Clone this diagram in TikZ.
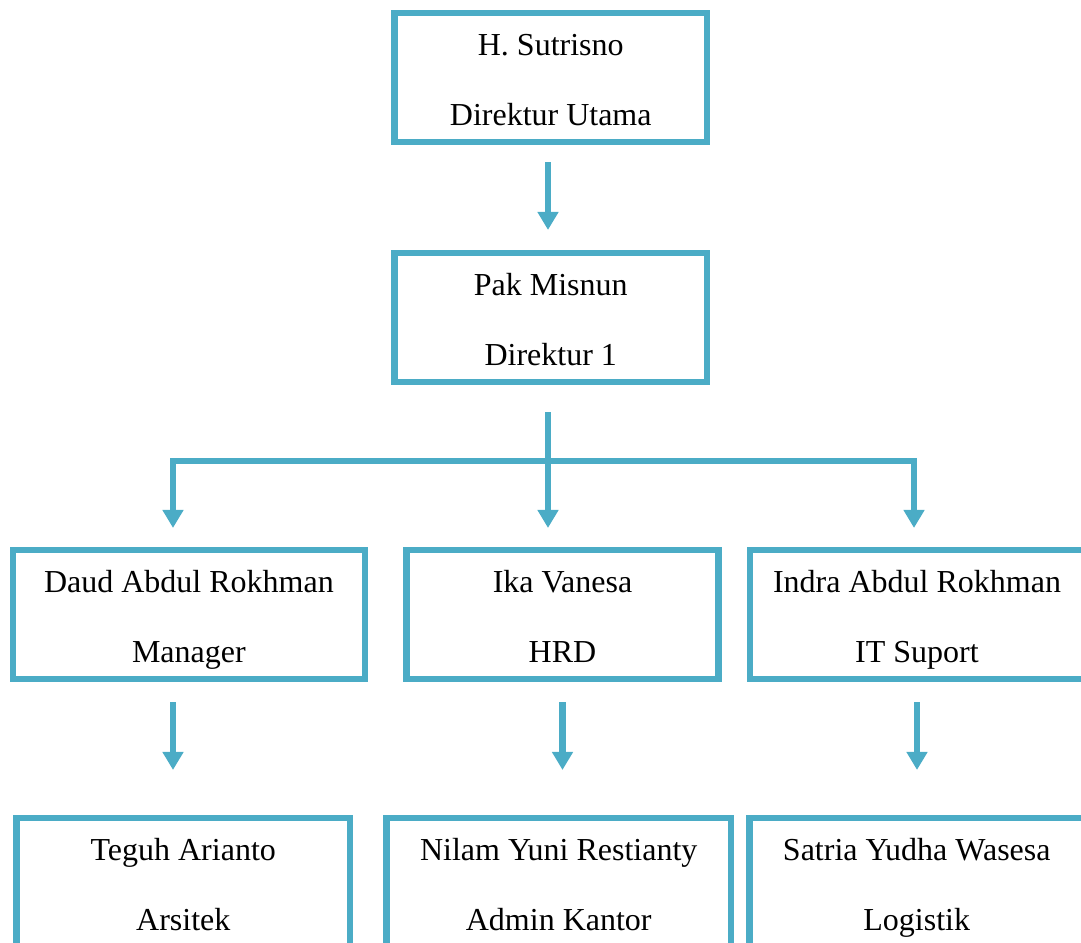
\documentclass[tikz,border=0pt]{standalone}
\usepackage{fontspec}
\setmainfont{Liberation Serif}
\usetikzlibrary{arrows.meta,positioning}

\definecolor{kotak}{HTML}{4BACC6}
\newcommand{\duo}[2]{\rule{0pt}{17.5pt}#1\\#2\rule[-5pt]{0pt}{5pt}}

\tikzset{
  box/.style={draw=kotak, line width=3.25pt, rectangle, inner sep=0pt,
    minimum height=64.5pt, align=center,
    font=\fontsize{16}{35}\selectfont},
  link/.style={draw=kotak, line width=3.25pt},
  tip/.style={-{Triangle[length=9pt,width=10pt]}}
}

\begin{document}
\begin{tikzpicture}[x=0.5pt,y=-0.5pt]
		\useasboundingbox (0,0) rectangle (1081,942);
		\clip (0,0) rectangle (1081,942);
		
		% 1. 上层：两位直接领导
		\node [box, minimum width=156.25pt] (utama) at (550.75,77.5) {\duo{H. Sutrisno}{Direktur Utama}};
		\node [box, minimum width=156.25pt, below=52.25pt of utama] (dir1) {\duo{Pak Misnun}{Direktur 1}};
		
		% 2. 中层：三个部门
		\node [box, minimum width=176.15pt] (mgr) at (188.9,614.5) {\duo{Daud Abdul Rokhman}{Manager}};
		\node [box, minimum width=156pt] (hrd) at (562.5,614.5) {\duo{Ika Vanesa}{HRD}};
		\node [box, minimum width=167pt] (it) at (917,614.5) {\duo{Indra Abdul Rokhman}{IT Suport}};
		
		% 3. 下层：各部门下属（被图片底边截断）
		\node [box, minimum width=166.75pt] (arsitek) at (183.25,882.5) {\duo{Teguh Arianto}{Arsitek}};
		\node [box, minimum width=172.25pt] (admin) at (558.75,882.5) {\duo{Nilam Yuni Restianty}{Admin Kantor}};
		\node [box, minimum width=167.25pt] (logistik) at (916.75,882.5) {\duo{Satria Yudha Wasesa}{Logistik}};
		
		% 分叉点
		\coordinate (fork) at (548,461);
		\coordinate (forkL) at (173,461);
		\coordinate (forkR) at (914,461);
		
		% 4. 连接箭头
		\draw [link, tip, shorten <=8.4pt, shorten >=9.9pt] (fork |- utama.south) -- (fork |- dir1.north);
		
		\draw [link, tip, shorten <=13.4pt, shorten >=9.4pt] (fork |- dir1.south) -- (fork |- hrd.north);
		\draw [link, {Triangle[length=9pt,width=10pt]}-{Triangle[length=9pt,width=10pt]},
		       shorten <=9.4pt, shorten >=9.4pt]
		      (forkL |- mgr.north) -- (forkL) -- (forkR) -- (forkR |- it.north);
		
		\draw [link, tip, shorten <=9.9pt, shorten >=22.4pt] (forkL |- mgr.south) -- (forkL |- arsitek.north);
		\draw [link, tip, shorten <=9.9pt, shorten >=22.4pt] (hrd.south) -- (hrd.south |- admin.north);
		\draw [link, tip, shorten <=9.9pt, shorten >=22.4pt] (it.south) -- (it.south |- logistik.north);
\end{tikzpicture}
\end{document}
